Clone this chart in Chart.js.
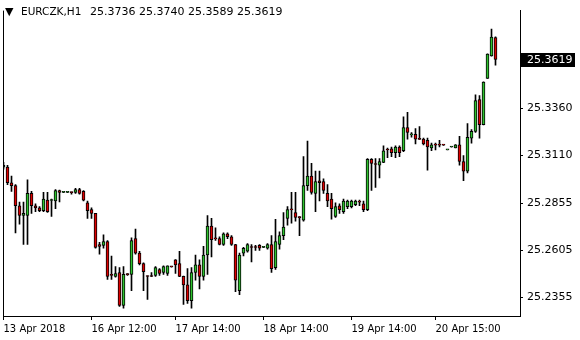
<!DOCTYPE html>
<html>
<head>
<meta charset="utf-8">
<script src="https://cdn.jsdelivr.net/npm/chart.js@4/dist/chart.umd.min.js"></script>
<style>
  html, body { margin: 0; padding: 0; background: #fff; }
</style>
</head>
<body>
<canvas id="chart" width="580" height="340"></canvas>
<script>
// EURCZK H1 candles, oldest first
const symbol = "EURCZK,H1"
const opens = [
  25.3047, 25.3047, 25.2964, 25.2949, 25.2842, 25.2790, 25.2790, 25.2908, 25.2842, 25.2831,
  25.2816, 25.2872, 25.2870, 25.2867, 25.2923, 25.2913, 25.2913, 25.2913, 25.2913, 25.2928,
  25.2918, 25.2857, 25.2821, 25.2801, 25.2636, 25.2631, 25.2652, 25.2477, 25.2467, 25.2487,
  25.2312, 25.2477, 25.2477, 25.2667, 25.2590, 25.2534, 25.2467, 25.2467, 25.2472, 25.2503,
  25.2487, 25.2482, 25.2518, 25.2554, 25.2534, 25.2467, 25.2421, 25.2338, 25.2487, 25.2528,
  25.2467, 25.2580, 25.2734, 25.2667, 25.2667, 25.2636, 25.2693, 25.2677, 25.2636, 25.2390,
  25.2590, 25.2600, 25.2621, 25.2621, 25.2631, 25.2621, 25.2616, 25.2636, 25.2513, 25.2636,
  25.2683, 25.2775, 25.2821, 25.2806, 25.2780, 25.2765, 25.2949, 25.3000, 25.2908, 25.2975,
  25.2970, 25.2908, 25.2877, 25.2785, 25.2842, 25.2811, 25.2837, 25.2837, 25.2847, 25.2862,
  25.2852, 25.2821, 25.3088, 25.3062, 25.3057, 25.3072, 25.3139, 25.3144, 25.3124, 25.3154,
  25.3134, 25.3257, 25.3218, 25.3221, 25.3196, 25.3196, 25.3190, 25.3149, 25.3165, 25.3165,
  25.3165, 25.3139, 25.3154, 25.3149, 25.3165, 25.3077, 25.3026, 25.3201, 25.3237, 25.3406,
  25.3273, 25.3519, 25.3638, 25.3736
]
const highs = [
  25.3072, 25.3057, 25.3000, 25.2954, 25.2862, 25.2862, 25.2980, 25.2918, 25.2852, 25.2837,
  25.2913, 25.2913, 25.2877, 25.2928, 25.2925, 25.2915, 25.2914, 25.2914, 25.2934, 25.2934,
  25.2923, 25.2867, 25.2831, 25.2801, 25.2647, 25.2688, 25.2657, 25.2575, 25.2518, 25.2513,
  25.2518, 25.2482, 25.2672, 25.2718, 25.2600, 25.2539, 25.2469, 25.2487, 25.2518, 25.2508,
  25.2523, 25.2523, 25.2520, 25.2556, 25.2600, 25.2468, 25.2508, 25.2513, 25.2580, 25.2554,
  25.2626, 25.2790, 25.2775, 25.2724, 25.2677, 25.2698, 25.2698, 25.2683, 25.2637, 25.2590,
  25.2621, 25.2641, 25.2636, 25.2631, 25.2636, 25.2623, 25.2641, 25.2683, 25.2770, 25.2703,
  25.2806, 25.2837, 25.2913, 25.2913, 25.2785, 25.3103, 25.3185, 25.3067, 25.3026, 25.3026,
  25.2985, 25.2954, 25.2908, 25.2857, 25.2852, 25.2877, 25.2872, 25.2872, 25.2872, 25.2872,
  25.2867, 25.3093, 25.3093, 25.3093, 25.3093, 25.3160, 25.3149, 25.3154, 25.3160, 25.3160,
  25.3314, 25.3339, 25.3231, 25.3252, 25.3262, 25.3201, 25.3201, 25.3175, 25.3175, 25.3190,
  25.3166, 25.3140, 25.3155, 25.3167, 25.3211, 25.3108, 25.3278, 25.3247, 25.3432, 25.3427,
  25.3500, 25.3649, 25.3781, 25.3740
]
const lows = [
  25.3036, 25.2954, 25.2918, 25.2698, 25.2744, 25.2636, 25.2636, 25.2801, 25.2811, 25.2811,
  25.2811, 25.2806, 25.2785, 25.2826, 25.2862, 25.2911, 25.2912, 25.2903, 25.2908, 25.2903,
  25.2867, 25.2775, 25.2775, 25.2616, 25.2585, 25.2616, 25.2451, 25.2451, 25.2462, 25.2307,
  25.2297, 25.2472, 25.2390, 25.2585, 25.2528, 25.2390, 25.2344, 25.2465, 25.2467, 25.2472,
  25.2477, 25.2472, 25.2516, 25.2482, 25.2465, 25.2317, 25.2323, 25.2297, 25.2446, 25.2400,
  25.2446, 25.2477, 25.2570, 25.2657, 25.2634, 25.2631, 25.2667, 25.2631, 25.2385, 25.2369,
  25.2575, 25.2595, 25.2544, 25.2605, 25.2605, 25.2619, 25.2611, 25.2487, 25.2503, 25.2611,
  25.2662, 25.2739, 25.2749, 25.2760, 25.2683, 25.2760, 25.2923, 25.2903, 25.2811, 25.2867,
  25.2908, 25.2837, 25.2770, 25.2780, 25.2801, 25.2801, 25.2826, 25.2831, 25.2842, 25.2842,
  25.2811, 25.2816, 25.2923, 25.2939, 25.2990, 25.3071, 25.3098, 25.3103, 25.3098, 25.3103,
  25.3129, 25.3196, 25.3206, 25.3170, 25.3194, 25.3165, 25.3031, 25.3134, 25.3139, 25.3154,
  25.3163, 25.3138, 25.3153, 25.3149, 25.3057, 25.2975, 25.3016, 25.3175, 25.3231, 25.3201,
  25.3271, 25.3518, 25.3637, 25.3589
]
const closes = [
  25.3057, 25.2964, 25.2949, 25.2842, 25.2790, 25.2801, 25.2908, 25.2842, 25.2831, 25.2816,
  25.2877, 25.2811, 25.2872, 25.2923, 25.2913, 25.2913, 25.2913, 25.2912, 25.2928, 25.2908,
  25.2872, 25.2816, 25.2801, 25.2621, 25.2626, 25.2652, 25.2467, 25.2472, 25.2482, 25.2312,
  25.2477, 25.2476, 25.2657, 25.2590, 25.2534, 25.2492, 25.2466, 25.2466, 25.2513, 25.2482,
  25.2518, 25.2523, 25.2517, 25.2528, 25.2467, 25.2421, 25.2338, 25.2487, 25.2528, 25.2467,
  25.2580, 25.2734, 25.2662, 25.2666, 25.2636, 25.2693, 25.2677, 25.2636, 25.2446, 25.2580,
  25.2616, 25.2636, 25.2620, 25.2620, 25.2616, 25.2621, 25.2636, 25.2508, 25.2652, 25.2683,
  25.2729, 25.2821, 25.2820, 25.2780, 25.2779, 25.2949, 25.3000, 25.2913, 25.2970, 25.2964,
  25.2923, 25.2867, 25.2826, 25.2837, 25.2821, 25.2867, 25.2867, 25.2867, 25.2867, 25.2861,
  25.2821, 25.3088, 25.3067, 25.3061, 25.3077, 25.3134, 25.3138, 25.3124, 25.3154, 25.3124,
  25.3257, 25.3231, 25.3224, 25.3196, 25.3195, 25.3170, 25.3154, 25.3165, 25.3164, 25.3164,
  25.3164, 25.3139, 25.3154, 25.3165, 25.3077, 25.3026, 25.3206, 25.3237, 25.3401, 25.3273,
  25.3499, 25.3648, 25.3738, 25.3619
]
const yTicks = [25.2355, 25.2605, 25.2855, 25.3110, 25.3360]
const xTickBars = [0, 22, 43, 65, 87, 108]
const xTickLabels = ["13 Apr 2018", "16 Apr 12:00", "17 Apr 14:00", "18 Apr 14:00", "19 Apr 14:00", "20 Apr 15:00"]

const bullColor = "#2ec22e"
const bearColor = "#dd0000"
const font = "DejaVu Sans"

const last = closes.length - 1
const wicks = lows.map((l, i) => ({ x: i, y: [l, highs[i]] }))
const bodies = opens.map((o, i) => ({ x: i, y: [o, closes[i]] }))
const bodyColors = opens.map((o, i) => closes[i] >= o ? bullColor : bearColor)

const frame = {
    id: "frame",
    afterDraw(chart) {
        const { ctx, chartArea: { left, top, right, bottom }, scales: { y } } = chart
        ctx.save()
        ctx.fillStyle = "#000"
        ctx.fillRect(left, top, 1, bottom - top)

        // header
        ctx.font = "11px '" + font + "'"
        ctx.textBaseline = "middle"
        ctx.textAlign = "left"
        ctx.fillText("\u25BC", 5, 12)
        ctx.font = "10.5px '" + font + "'"
        ctx.fillText(symbol, 21, 12)
        ctx.font = "11px '" + font + "'"
        const ohlc = [opens[last], highs[last], lows[last], closes[last]].map(v => v.toFixed(4)).join(" ")
        ctx.fillText(ohlc, 90, 12)

        // current price box
        const py = Math.round(y.getPixelForValue(closes[last]))
        ctx.fillRect(right + 1, py - 7, 54, 14)
        ctx.fillStyle = "#fff"
        ctx.fillText(closes[last].toFixed(4), right + 7, py)
        ctx.restore()
    }
}

new Chart(document.getElementById("chart"), {
    type: "bar",
    data: {
        datasets: [{
            data: bodies,
            backgroundColor: bodyColors,
            borderColor: "#000",
            borderWidth: 1,
            borderSkipped: false,
            barThickness: 3,
            minBarLength: 1,
            grouped: false,
            order: 1
        }, {
            data: wicks,
            backgroundColor: "#000",
            borderWidth: 0,
            barThickness: 1,
            grouped: false,
            order: 2
        }]
    },
    options: {
        responsive: false,
        animation: false,
        devicePixelRatio: 1,
        layout: { padding: { left: 3, top: 0, right: 0, bottom: 0 } },
        plugins: { legend: { display: false }, tooltip: { enabled: false } },
        scales: {
            x: {
                type: "linear",
                offset: false,
                min: -0.125,
                max: 129.125,
                grid: { offset: false, drawOnChartArea: false, color: "#000", tickLength: 4 },
                border: { color: "#000" },
                afterBuildTicks: s => { s.ticks = xTickBars.map(v => ({ value: v })) },
                afterFit: s => { s.height = 24 },
                ticks: {
                    autoSkip: false,
                    maxRotation: 0,
                    align: "start",
                    padding: 3,
                    color: "#000",
                    font: { family: font, size: 10 },
                    callback: v => xTickLabels[xTickBars.indexOf(v)]
                }
            },
            y: {
                position: "right",
                min: 25.2256,
                max: 25.3879,
                grid: { drawOnChartArea: false, color: "#000", tickLength: 3 },
                border: { color: "#000" },
                afterBuildTicks: s => { s.ticks = yTicks.map(v => ({ value: v })) },
                afterFit: s => { s.width = 60 },
                ticks: {
                    padding: 4,
                    color: "#000",
                    font: { family: font, size: 11 },
                    callback: v => v.toFixed(4)
                }
            }
        }
    },
    plugins: [frame]
})
</script>
</body>
</html>
